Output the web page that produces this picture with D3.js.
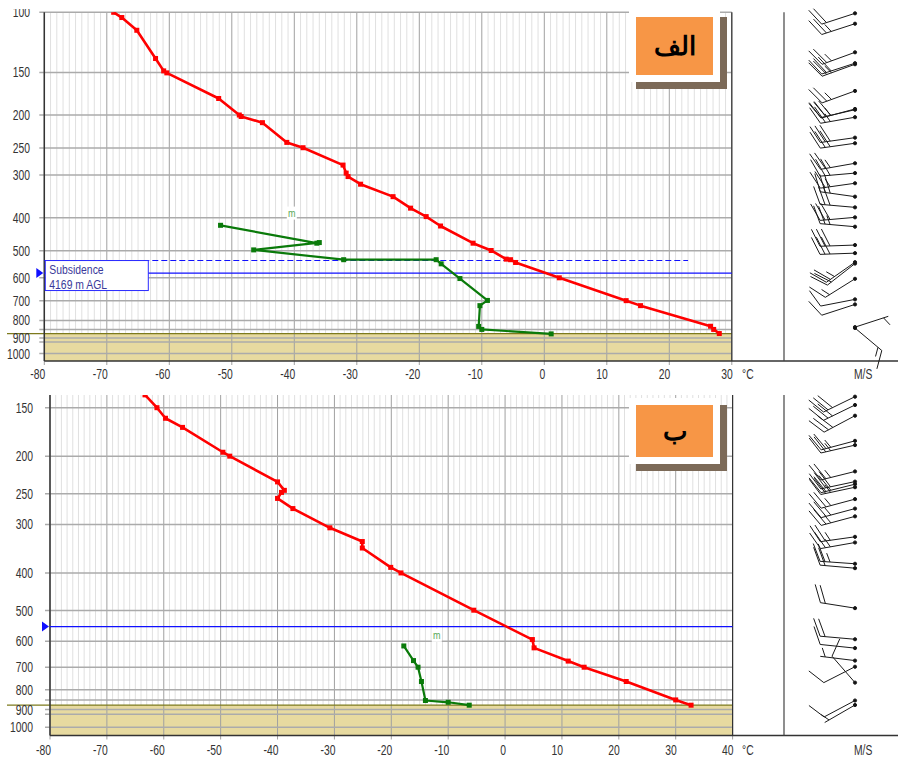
<!DOCTYPE html>
<html>
<head>
<meta charset="utf-8">
<title>Soundings</title>
<style>
  body { margin: 0; background: #fff; }
  text { font-family: Arial, 'Liberation Sans', sans-serif; }
</style>
<script src="https://d3js.org/d3.v7.min.js"></script>
</head>
<body>
<div id="container"></div>
<script>
// ******* Data: panel A (الف) *******
const tempA_T = [-68.9, -67.6, -65.2, -62.2, -60.9, -60.4, -52.1, -48.8, -48.5, -45.1, -41.2, -38.6, -32.2, -31.7, -31.4, -29.4, -24.2, -21.4, -18.9, -16.6, -11.4, -8.5, -6.1, -5.4, -4.6, 2.4, 13.1, 15.4, 26.6, 27.1, 28.0];
const tempA_P = [100, 103.6, 112.9, 136.6, 148.5, 150.5, 178.9, 200, 202, 210.6, 240.6, 249.4, 280.4, 296, 303, 319, 347, 375, 397, 423, 475, 499, 529, 531, 541, 600, 700, 724, 832, 850, 874];
const dewA_T = [-51.8, -36.4, -36.0, -46.5, -32.1, -17.3, -16.5, -13.5, -9.1, -10.3, -10.5, -10.0, 1.1];
const dewA_P = [421, 475, 473, 497, 531, 531, 546, 603, 699, 724, 833, 850, 876];
const barbA_P   = [100.7, 108, 131, 141, 142, 170, 192, 193, 203, 233, 242, 277, 296, 317, 347, 373, 399, 425, 481, 508, 540, 545, 604, 694, 718, 837, 842];
const barbA_Dir = [252, 252, 250, 252, 250, 250, 255, 257, 260, 262, 262, 260, 265, 262, 278, 275, 265, 275, 268, 268, 235, 232, 238, 259, 252, 72, 130];
const barbA_Spd = [10, 12.5, 12.5, 15, 12.5, 12.5, 15, 12.5, 12.5, 15, 15, 12.5, 15, 12.5, 15, 15, 15, 12.5, 15, 15, 12.5, 10, 7.5, 5, 5, 2.5, 7.5];
const surfaceA = 874, subsidenceA = 581, lclA = 534, lclEndA = 23, markA = [-40.4, 389];

// ******* Data: panel B (ب) *******
const tempB_T = [-63.3, -61.2, -59.7, -56.7, -49.6, -48.4, -40.0, -38.8, -39.3, -40.0, -37.3, -30.8, -25.1, -25.1, -20.1, -18.3, -5.5, 4.8, 5.1, 11.1, 13.9, 21.3, 30.0, 32.7];
const tempB_P = [139, 150, 159.7, 168.6, 195.4, 200, 233, 245, 248, 257, 273, 306, 332, 345, 387, 400, 499, 594, 624, 675, 700, 762, 850, 877];
const dewB_T = [-17.8, -16.1, -15.3, -14.7, -14.0, -10.0, -6.3];
const dewB_P = [617, 673, 700, 762, 853, 862, 877];
const barbB_P   = [140.5, 147.6, 157.3, 182.6, 187.3, 219, 232.6, 236.2, 240.5, 258.1, 273, 285.9, 322.8, 333.9, 378.8, 388.9, 493, 593, 625, 673, 698, 767, 853, 876];
const barbB_Dir = [244, 244, 242, 255, 257, 256, 258, 256, 258, 255, 255, 255, 262, 260, 274, 275, 279, 275, 276, 277, 243, 319, 242, 240];
const barbB_Spd = [15, 15, 15, 12.5, 12.5, 12.5, 15, 15, 12.5, 12.5, 12.5, 12.5, 12.5, 12.5, 12.5, 10, 10, 10, 5, 2.5, 5, 5, 5, 2.5];
const surfaceB = 877, subsidenceB = 550, markB = [-12.0, 581];

// ******* Axis ticks *******
const pLabels = [100, 150, 200, 250, 300, 400, 500, 600, 700, 800, 900, 1000];
const pExtra = [850, 925];
const tTicksA = [-80, -70, -60, -50, -40, -30, -20, -10, 0, 10, 20, 30];
const tTicksB = [-80, -70, -60, -50, -40, -30, -20, -10, 0, 10, 20, 30, 40];

// ******* Constants *******
const width = 898, height = 759, barbX = 855, sepX = 784;

const svg = d3.select("#container").append("svg")
    .attr("width", width)
    .attr("height", height)
    .style("display", "block");

// labels are clipped to the visible frame like the cropped screenshot
svg.append("clipPath").attr("id", "pageClip")
  .append("rect").attr("x", 0).attr("y", 9).attr("width", width).attr("height", height - 9);

// text squeezed horizontally like the original screenshot
function label(g, x, y, str, size, anchor, color, sx) {
  return g.append("text")
      .attr("transform", `translate(${x},${y}) scale(${sx || 0.74},1)`)
      .attr("text-anchor", anchor)
      .attr("font-size", size)
      .attr("fill", color || "#333")
      .text(str);
}

function drawBarb(g, sx, sy, dir, spd) {
  const L = 35, F = 19, gap = 5, rot = 65 * Math.PI / 180;
  const r = dir * Math.PI / 180;
  const ux = Math.sin(r), uy = -Math.cos(r);
  const ex = sx + ux * L, ey = sy + uy * L;
  const fx = Math.cos(rot) * ux - Math.sin(rot) * uy,
        fy = Math.sin(rot) * ux + Math.cos(rot) * uy;
  g.append("line").attr("x1", sx).attr("y1", sy).attr("x2", ex).attr("y2", ey);
  const n = Math.round(spd / 2.5);
  const full = Math.floor(n / 2), half = n % 2;
  let i = 0;
  for (; i < full; i++) {
    const bx = ex - ux * gap * i, by = ey - uy * gap * i;
    g.append("line").attr("x1", bx).attr("y1", by)
        .attr("x2", bx + fx * F).attr("y2", by + fy * F);
  }
  if (half) {
    const k = full === 0 ? 1 : i;
    const bx = ex - ux * gap * k, by = ey - uy * gap * k;
    g.append("line").attr("x1", bx).attr("y1", by)
        .attr("x2", bx + fx * F / 2).attr("y2", by + fy * F / 2);
  }
  g.append("circle").attr("cx", sx).attr("cy", sy).attr("r", 1.6).attr("fill", "#111");
}

function drawPanel(p) {
  const g = svg.append("g");
  const x = d3.scaleLinear().domain([-80, p.tMax]).range([p.xl, p.xr]);
  const y = d3.scaleLog().domain([p.pRef, 1000]).range([p.yRef, p.y1000]);
  const clipId = "clip" + p.id;
  svg.append("clipPath").attr("id", clipId)
    .append("rect").attr("x", p.xl).attr("y", p.top)
    .attr("width", p.xr - p.xl).attr("height", p.bottom - p.top);

  // minor isotherms every 1 degree
  g.selectAll(".minor").data(d3.range(-80, p.tMax + 1, 1).filter(d => d % 10 !== 0))
    .enter().append("line")
      .attr("x1", d => x(d)).attr("x2", d => x(d))
      .attr("y1", p.top).attr("y2", p.bottom)
      .attr("stroke", "#e0e0e0").attr("stroke-width", 1);

  // ground shading
  const ys = y(p.surface);
  g.append("rect").attr("x", p.xl).attr("y", ys)
      .attr("width", p.xr - p.xl).attr("height", p.bottom - ys)
      .attr("fill", "#e7daa0");

  // major isotherms with ticks
  g.selectAll(".major").data(p.tTicks).enter().append("line")
      .attr("x1", d => x(d)).attr("x2", d => x(d))
      .attr("y1", p.top).attr("y2", p.bottom + 4)
      .attr("stroke", "#a0a0a0").attr("stroke-width", 1);

  // isobars
  const levels = pLabels.concat(pExtra).filter(v => y(v) >= p.top - 0.5 && y(v) <= p.bottom);
  g.selectAll(".iso").data(levels).enter().append("line")
      .attr("x1", p.xl - 5).attr("x2", p.xr)
      .attr("y1", d => y(d)).attr("y2", d => y(d))
      .attr("stroke", "#ababab").attr("stroke-width", 1.5);

  // ground line
  g.append("line").attr("x1", 7).attr("x2", p.xr)
      .attr("y1", ys).attr("y2", ys)
      .attr("stroke", "#7d7a1c").attr("stroke-width", 1.3);

  // frame
  g.append("line").attr("x1", p.xl).attr("x2", p.xl).attr("y1", p.top).attr("y2", p.bottom)
      .attr("stroke", "#333").attr("stroke-width", 1.5);
  g.append("line").attr("x1", p.xr).attr("x2", p.xr).attr("y1", p.top).attr("y2", p.bottom)
      .attr("stroke", "#333").attr("stroke-width", 1.2);
  g.append("line").attr("x1", p.xl).attr("x2", width).attr("y1", p.bottom).attr("y2", p.bottom)
      .attr("stroke", "#333").attr("stroke-width", 1.5);
  g.append("line").attr("x1", sepX).attr("x2", sepX).attr("y1", p.top).attr("y2", p.bottom)
      .attr("stroke", "#444").attr("stroke-width", 1.2);

  // subsidence / lcl lines
  const ysub = y(p.subsidence);
  if (p.lcl) {
    g.append("line").attr("x1", p.xl).attr("x2", x(p.lclEnd))
        .attr("y1", y(p.lcl)).attr("y2", y(p.lcl))
        .attr("stroke", "#1010ff").attr("stroke-width", 1.1)
        .attr("stroke-dasharray", "6,3");
  }
  g.append("line").attr("x1", p.xl).attr("x2", p.xr)
      .attr("y1", ysub).attr("y2", ysub)
      .attr("stroke", "#1010ff").attr("stroke-width", 1.3);
  g.append("path")
      .attr("d", `M${p.xl - 8},${ysub - 5}L${p.xl - 1},${ysub}L${p.xl - 8},${ysub + 5}Z`)
      .attr("fill", "#1010ff");

  // temperature and dewpoint
  const line = d3.line().x(d => x(d[0])).y(d => y(d[1]));
  const series = [
    {T: p.tempT, P: p.tempP, color: "#ff0000", w: 2.6},
    {T: p.dewT, P: p.dewP, color: "#0a7a0a", w: 2.2}
  ];
  series.forEach(s => {
    const pts = s.T.map((t, i) => [t, s.P[i]]);
    const sg = g.append("g").attr("clip-path", `url(#${clipId})`);
    sg.append("path").datum(pts).attr("d", line)
        .attr("fill", "none").attr("stroke", s.color).attr("stroke-width", s.w)
        .attr("stroke-linejoin", "round");
    sg.selectAll("rect").data(pts).enter().append("rect")
        .attr("x", d => x(d[0]) - 2.5).attr("y", d => y(d[1]) - 2.5)
        .attr("width", 5).attr("height", 5).attr("fill", s.color);
  });

  // "m" marker
  const mx = x(p.mark[0]), my = y(p.mark[1]);
  g.append("rect").attr("x", mx - 5).attr("y", my - 7).attr("width", 10).attr("height", 13).attr("fill", "#fff");
  label(g, mx, my + 3, "m", 10, "middle", "#58a858", 0.9);

  // subsidence box
  if (p.boxText) {
    g.append("rect").attr("x", p.xl + 1).attr("y", y(p.lcl))
        .attr("width", 103).attr("height", 30)
        .attr("fill", "#fff").attr("stroke", "#2a2aff").attr("stroke-width", 1);
    label(g, p.xl + 5, y(p.lcl) + 13, p.boxText[0], 13, "start", "#3a3a9a", 0.8);
    label(g, p.xl + 5, y(p.lcl) + 28, p.boxText[1], 13, "start", "#3a3a9a", 0.8);
  }

  // axis labels
  const lg = g.append("g").attr("clip-path", "url(#pageClip)");
  pLabels.filter(v => y(v) >= p.top - 1 && y(v) <= p.bottom).forEach(v => {
    label(lg, p.ylab, y(v) + 5, v, 14, "end");
  });
  p.tTicks.forEach(t => label(g, x(t) + 1, p.xlabY, t, 14, "end"));
  label(g, 742, p.xlabY, "°C", 14, "start");
  label(g, 854, p.xlabY, "M/S", 14, "start");

  // wind barbs
  const bg = g.append("g").attr("stroke", "#1a1a1a").attr("stroke-width", 1);
  p.barbP.forEach((pp, i) => drawBarb(bg, barbX, y(pp), p.barbDir[i], p.barbSpd[i]));

  // panel tag
  const b = p.tag;
  g.append("rect").attr("x", b.x + 7).attr("y", b.y + 7).attr("width", b.w).attr("height", b.h)
      .attr("fill", "#7c6a58");
  g.append("rect").attr("x", b.x).attr("y", b.y).attr("width", b.w).attr("height", b.h)
      .attr("fill", "#fff");
  g.append("rect").attr("x", b.x + 7).attr("y", b.y + 7).attr("width", b.w - 14).attr("height", b.h - 14)
      .attr("fill", "#f79646");
  g.append("text").attr("x", b.x + b.w / 2).attr("y", b.y + b.h / 2 + 9)
      .attr("text-anchor", "middle").attr("font-size", 26).attr("font-weight", "bold")
      .attr("font-family", "'DejaVu Sans', 'Noto Sans', sans-serif")
      .attr("fill", "#000").text(b.text);
}

drawPanel({
  id: "A", tMax: 30, xl: 44.3, xr: 731.8, top: 12.3, bottom: 361,
  pRef: 100, yRef: 12.3, y1000: 353.5, ylab: 30, xlabY: 379, tTicks: tTicksA,
  tempT: tempA_T, tempP: tempA_P, dewT: dewA_T, dewP: dewA_P,
  barbP: barbA_P, barbDir: barbA_Dir, barbSpd: barbA_Spd,
  surface: surfaceA, subsidence: subsidenceA, lcl: lclA, lclEnd: lclEndA, mark: markA,
  boxText: ["Subsidence", "4169 m AGL"],
  tag: {x: 629, y: 10, w: 91, h: 72, text: "الف"}
});

drawPanel({
  id: "B", tMax: 40, xl: 50, xr: 732.6, top: 395, bottom: 735.5,
  pRef: 150, yRef: 407.7, y1000: 727.3, ylab: 33, xlabY: 755, tTicks: tTicksB,
  tempT: tempB_T, tempP: tempB_P, dewT: dewB_T, dewP: dewB_P,
  barbP: barbB_P, barbDir: barbB_Dir, barbSpd: barbB_Spd,
  surface: surfaceB, subsidence: subsidenceB, mark: markB,
  tag: {x: 629, y: 398, w: 91, h: 66, text: "ب"}
});
</script>
</body>
</html>
